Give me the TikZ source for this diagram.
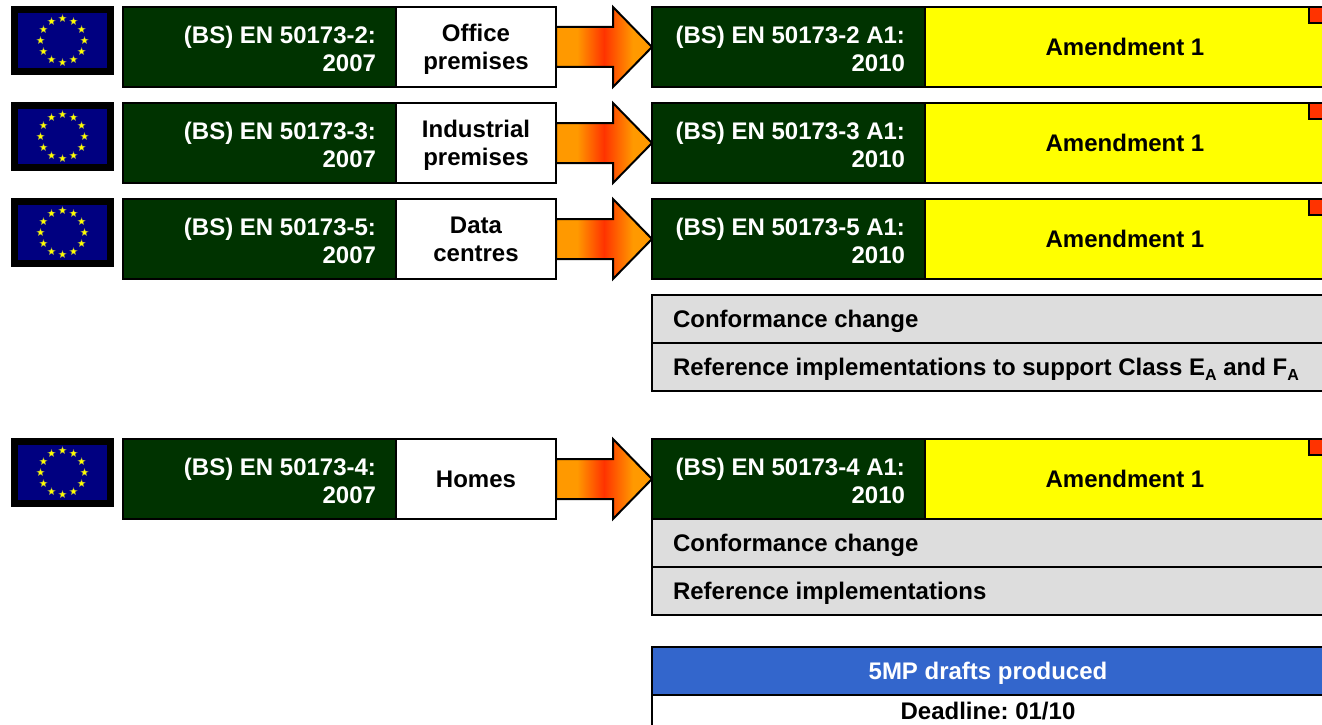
\documentclass[tikz,border=0pt]{standalone}
\usepackage{fontspec}
\setmainfont{Liberation Sans}
\usetikzlibrary{positioning, shapes.geometric}
\definecolor{stdgreen}{HTML}{003300}
\definecolor{flagblue}{HTML}{000080}
\definecolor{notegrey}{HTML}{DDDDDD}
\definecolor{planblue}{HTML}{3366CC}
\definecolor{cornerred}{HTML}{FF3300}
\definecolor{amendyellow}{HTML}{FFFF00}
\definecolor{arroworange}{HTML}{FF9900}
\definecolor{arrowred}{HTML}{FF3300}
\pgfdeclarehorizontalshading{arrowfade}{100bp}{color(0bp)=(arroworange); color(36bp)=(arroworange); color(50bp)=(arrowred); color(65bp)=(arroworange); color(100bp)=(arroworange)}
\newcommand{\classA}{\raisebox{-5pt}{\fontsize{16}{16}\selectfont A}}

\begin{document}
\begin{tikzpicture}[x=1pt,y=-1pt,
        every node/.style={font=\fontsize{24}{28}\selectfont\bfseries\frenchspacing,outer sep=0pt,inner ysep=0pt,line width=2pt,text depth=-4pt},
        stdbox/.style={draw,fill=stdgreen,text=white,minimum height=80pt,text width=233pt,inner xsep=20pt,align=flush right,text depth=24pt},
        titlebox/.style={draw,fill=white,minimum height=80pt,minimum width=160pt,align=center},
        amendbox/.style={draw,fill=amendyellow,minimum height=80pt,minimum width=400pt,align=center},
        notebox/.style={draw,fill=notegrey,minimum height=48pt,text width=640pt,inner xsep=21pt,align=flush left,text depth=-5pt},
        planbox/.style={draw,fill=planblue,text=white,minimum height=48pt,minimum width=672pt,align=center},
        dateblock/.style={draw,fill=white,minimum height=32pt,minimum width=672pt,align=center},
        cornerbox/.style={draw,fill=cornerred,minimum size=16pt,anchor=north east,inner sep=0pt},
        flagbox/.style={draw=black,line width=7pt,fill=flagblue,minimum width=96pt,minimum height=62pt,inner sep=0pt},
        flagstar/.style={star,star points=5,star point ratio=2.4,fill=amendyellow,draw=black!60,line width=0.2pt,minimum size=8pt,inner sep=0pt},
        blockarrow/.style={draw,line width=2pt,shading=arrowfade}]
    \clip (0,0) rectangle (1322,725);

    \foreach \ypos/\partno/\premise in {7/2/{Office\\premises},103/3/{Industrial\\premises},199/5/{Data\\centres},439/4/{Homes}} {
      \node[stdbox,anchor=north west] (std\partno) at (123,\ypos) {(BS) EN 50173-\partno:\\2007};
      \node[titlebox,right=0pt of std\partno] (title\partno) {\premise};
      \node[flagbox] (flag\partno) at (62.5,\ypos+33.5) {};
      \foreach \flagangle in {0,30,...,330}
        \node[flagstar] (star\partno-\flagangle) at ([shift={(\flagangle:22pt)}]flag\partno.center) {};
      \node[stdbox,anchor=north west] (amd\partno) at (652,\ypos) {(BS) EN 50173-\partno\ A1:\\2010};
      \node[amendbox,right=0pt of amd\partno] (yellow\partno) {Amendment 1};
      \node[cornerbox] (corner\partno) at (yellow\partno.north east) {};
      \draw[blockarrow] ([yshift=20pt]title\partno.east) -- ++(57,0) -- ++(0,-20) -- (amd\partno.west) -- ++(-39,40) -- ++(0,-20) -- ([yshift=-20pt]title\partno.east) -- cycle;
    }

    \node[notebox,anchor=north west] (conf5) at (652,295) {Conformance change};
    \node[notebox,below=0pt of conf5] (impl5) {Reference implementations to support Class E\classA{} and F\classA};

    \node[notebox,anchor=north west] (conf4) at (amd4.south west) {Conformance change};
    \node[notebox,below=0pt of conf4] (impl4) {Reference implementations};

    \node[planbox,anchor=north west] (drafts) at (652,647) {5MP drafts produced};
    \node[dateblock,below=0pt of drafts] (deadline) {Deadline: 01/10};
\end{tikzpicture}
\end{document}
